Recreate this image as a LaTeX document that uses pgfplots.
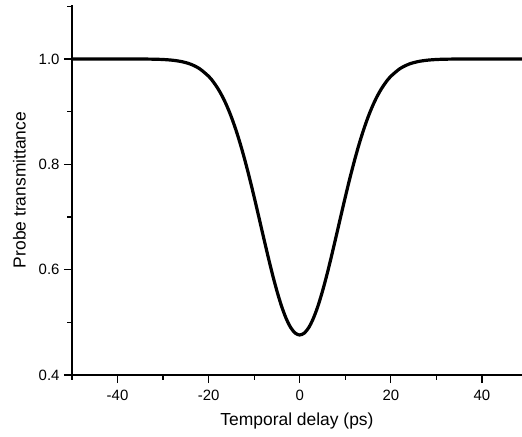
\documentclass[border=0pt]{standalone}
\usepackage{pgfplots}
\pgfplotsset{compat=1.18}
\usepackage{fontspec}
\setmainfont{Liberation Sans}
\begin{document}
\begin{tikzpicture}[x=1bp,y=1bp]
\path[use as bounding box] (-72bp,-62bp) rectangle (450bp,375bp);
\begin{axis}[
  at={(0,0)}, anchor=south west,
  scale only axis,
  width=450bp, height=370bp,
  xmin=-50, xmax=48.8,
  ymin=0.4, ymax=1.1025,
  axis x line*=bottom, axis y line*=left,
  axis line style={line width=1.5bp},
  tick align=outside,
  major tick length=8bp, minor tick length=4.5bp,
  every tick/.style={line width=1.2bp, black},
  xtick={-40,-20,0,20,40},
  xticklabels={-40,-20,0,20,40},
  minor xtick={-50,-30,-10,10,30},
  ytick={0.4,0.6,0.8,1.0},
  yticklabels={0.4,0.6,0.8,1.0},
  minor ytick={0.5,0.7,0.9,1.1},
  ticklabel style={font=\fontsize{15}{17}\selectfont},
  xticklabel style={yshift=-4bp},
  yticklabel style={xshift=-1bp},
  label style={font=\fontsize{17.5}{20}\selectfont},
  xlabel={Temporal delay (ps)},
  ylabel={Probe transmittance},
  xlabel style={yshift=-5bp},
  ylabel style={yshift=6bp},
  clip=true,
]
\addplot[black, line width=3.2bp, smooth] coordinates {
(-50,1.0) (-45,1.0) (-40,1.0) (-35,0.9999) (-32,0.9996) (-30,0.9990) (-28,0.9977) (-26,0.9951) (-24,0.9903) (-22,0.9816)
(-20,0.9671) (-19,0.9569) (-18,0.9443) (-17,0.9291) (-16,0.9109) (-15,0.8896) (-14,0.8650) (-13,0.8373) (-12,0.8065) (-11,0.7732)
(-10,0.7377) (-9,0.7008) (-8,0.6635) (-7,0.6267) (-6,0.5915) (-5,0.5593) (-4,0.5309) (-3,0.5077) (-2,0.4903) (-1,0.4796)
(0,0.4760)
(1,0.4796) (2,0.4903) (3,0.5077) (4,0.5309) (5,0.5593) (6,0.5915) (7,0.6267) (8,0.6635) (9,0.7008) (10,0.7377)
(11,0.7732) (12,0.8065) (13,0.8373) (14,0.8650) (15,0.8896) (16,0.9109) (17,0.9291) (18,0.9443) (19,0.9569) (20,0.9671)
(22,0.9816) (24,0.9903) (26,0.9951) (28,0.9977) (30,0.9990) (32,0.9996) (35,0.9999) (40,1.0) (45,1.0) (50,1.0)
};
\end{axis}
\end{tikzpicture}
\end{document}
